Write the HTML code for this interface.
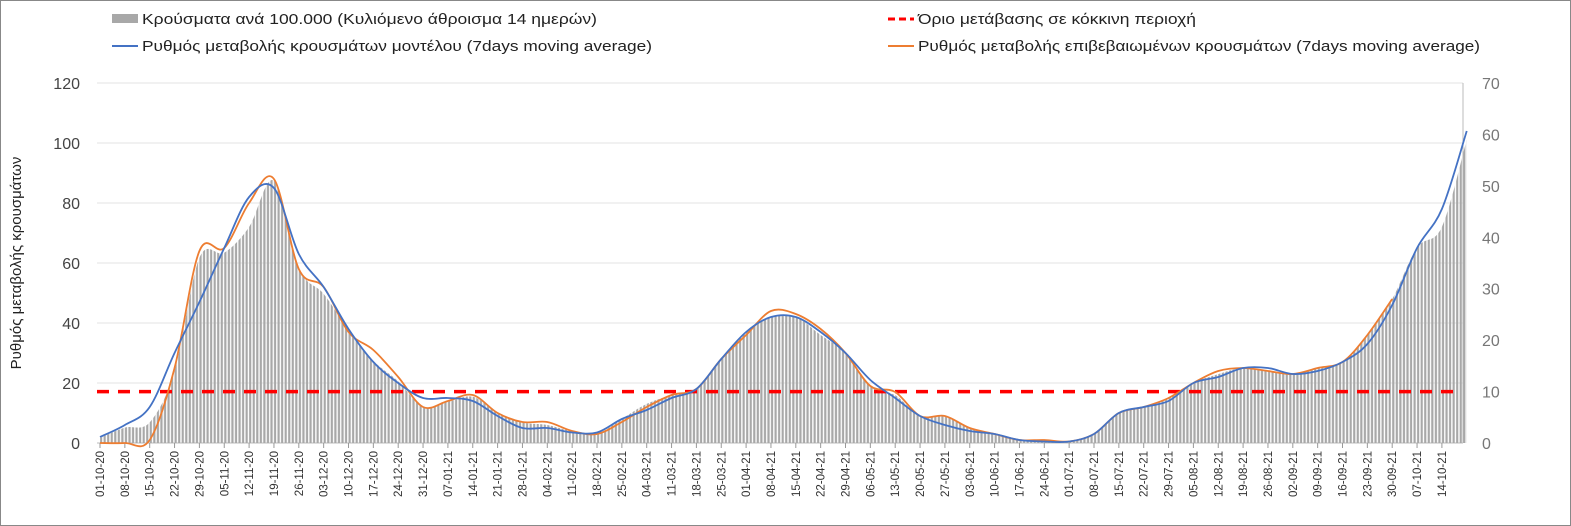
<!DOCTYPE html>
<html><head><meta charset="utf-8"><style>
body{margin:0;background:#fff;}
svg{display:block;font-family:"Liberation Sans",sans-serif;}
</style></head><body>
<svg id="c" width="1571" height="526">
<rect x="0.5" y="0.5" width="1570" height="525" fill="#fff" stroke="#888"/>
<defs><pattern id="st" width="3.55" height="10" patternUnits="userSpaceOnUse"><rect x="0.6" y="0" width="2.2" height="10" fill="#a8a8a8"/></pattern></defs>
<g id="legend">
<g><rect x="112" y="14" width="26" height="9" fill="#a8a8a8"/><text x="142" y="24" font-size="15" fill="#222" textLength="455" lengthAdjust="spacingAndGlyphs">Κρούσματα ανά 100.000 (Κυλιόμενο άθροισμα 14 ημερών)</text></g>
<g><line x1="888" y1="19" x2="914" y2="19" stroke="#f00" stroke-width="3" stroke-dasharray="7,4"/><text x="918" y="24" font-size="15" fill="#222" textLength="278" lengthAdjust="spacingAndGlyphs">Όριο μετάβασης σε κόκκινη περιοχή</text></g>
<g><line x1="112" y1="46" x2="138" y2="46" stroke="#4472c4" stroke-width="2"/><text x="142" y="51" font-size="15" fill="#222" textLength="510" lengthAdjust="spacingAndGlyphs">Ρυθμός μεταβολής κρουσμάτων μοντέλου (7days moving average)</text></g>
<g><line x1="888" y1="46" x2="914" y2="46" stroke="#ed7d31" stroke-width="2"/><text x="918" y="51" font-size="15" fill="#222" textLength="562" lengthAdjust="spacingAndGlyphs">Ρυθμός μεταβολής επιβεβαιωμένων κρουσμάτων (7days moving average)</text></g>
</g>
<text transform="translate(21,263) rotate(-90)" text-anchor="middle" font-size="15" fill="#222">Ρυθμός μεταβολής κρουσμάτων</text>
</svg>
<script>
const labels=["01-10-20","08-10-20","15-10-20","22-10-20","29-10-20","05-11-20","12-11-20","19-11-20","26-11-20","03-12-20","10-12-20","17-12-20","24-12-20","31-12-20","07-01-21","14-01-21","21-01-21","28-01-21","04-02-21","11-02-21","18-02-21","25-02-21","04-03-21","11-03-21","18-03-21","25-03-21","01-04-21","08-04-21","15-04-21","22-04-21","29-04-21","06-05-21","13-05-21","20-05-21","27-05-21","03-06-21","10-06-21","17-06-21","24-06-21","01-07-21","08-07-21","15-07-21","22-07-21","29-07-21","05-08-21","12-08-21","19-08-21","26-08-21","02-09-21","09-09-21","16-09-21","23-09-21","30-09-21","07-10-21","14-10-21"];
const model=[2,6,12,30,47,65,82,85,63,52,38,27,20,15,15,14,9,5,5,3.5,3.5,8,11,15,18,28,37,42,42,37,30,21,15,9,6,4,3,1,0.5,0.5,3,10,12,14,20,22,25,25,23,24,27,33,46,65,78,104];
const confirmed=[0,0,1,25,64,65,80,88,58,52,37,31,22,12,14,16,10,7,7,4,3,7,12,16,18,28,36,44,43,38,30,19,17,9,9,5,3,1,1,0.5,3,10,12,15,20,24,25,24,23,25,27,36,48];
const bars=[1,3,4,14,36,37,42,51,34,29,22,16,12,7,8,9,6,4,3.5,2.3,1.8,4.7,7.6,9.3,10.5,16.3,21.6,24.5,24.5,21,17.5,11,9.3,5.3,5.3,2.9,1.8,0.6,0.6,0.3,1.8,5.8,7,8.8,11.7,13.4,14.6,14,13.4,14.6,15.8,21,28,38,42,59];
const yTicks=[0,20,40,60,80,100,120];
const y2Ticks=[0,10,20,30,40,50,60,70];
const threshold=10;
const NS="http://www.w3.org/2000/svg",svg=document.getElementById('c');
const X0=100,DX=3.55*7,Y0=443,H=360,XR=1463;
const x=i=>X0+i*DX, yL=v=>Y0-v/120*H, yR=v=>Y0-v/70*H;
function el(t,a,p){const e=document.createElementNS(NS,t);for(const k in a)e.setAttribute(k,a[k]);(p||svg).appendChild(e);return e;}
function smooth(pts){let d=`M${pts[0][0]},${pts[0][1]}`;for(let i=0;i<pts.length-1;i++){const p0=pts[i-1]||pts[i],p1=pts[i],p2=pts[i+1],p3=pts[i+2]||p2;d+=`C${p1[0]+(p2[0]-p0[0])/6},${p1[1]+(p2[1]-p0[1])/6} ${p2[0]-(p3[0]-p1[0])/6},${p2[1]-(p3[1]-p1[1])/6} ${p2[0]},${p2[1]}`;}return d;}
yTicks.forEach(v=>{
 const g=el('line',{x1:97,x2:XR,y1:yL(v),y2:yL(v),stroke:v?'#e3e3e3':'#bbb'});
 
 
 const t=el('text',{x:80,y:yL(v)+6,'text-anchor':'end','font-size':16,fill:'#444'});t.textContent=v;
 
 
});
y2Ticks.forEach(v=>{
 const t=el('text',{x:1482,y:yR(v)+6,'font-size':16,fill:'#777'});t.textContent=v;
 
 
});
const ax=el('line',{x1:XR,x2:XR,y1:83,y2:Y0,stroke:'#bbb'});


const bp=bars.map((v,i)=>[x(i),yR(v)]);
const area=el('path',{d:smooth(bp)+`L${x(bars.length-1)},${Y0}L${X0},${Y0}Z`,fill:'url(#st)'});


labels.forEach((l,i)=>{
 el('line',{x1:x(i),x2:x(i),y1:Y0,y2:Y0+5,stroke:'#999'});
 const t=el('text',{transform:`translate(${x(i)+4},${Y0+8}) rotate(-90)`,'text-anchor':'end','font-size':11.5,fill:'#333'});t.textContent=l;
 
 
});
const th=el('line',{x1:97,x2:1455,y1:yR(threshold),y2:yR(threshold),stroke:'#f00','stroke-width':3.5,'stroke-dasharray':'12,9'});


const o=el('path',{d:smooth(confirmed.map((v,i)=>[x(i),yL(v)])),fill:'none',stroke:'#ed7d31','stroke-width':1.8});


const b=el('path',{d:smooth(model.map((v,i)=>[x(i),yL(v)])),fill:'none',stroke:'#4472c4','stroke-width':1.8});


</script>
</body></html>
